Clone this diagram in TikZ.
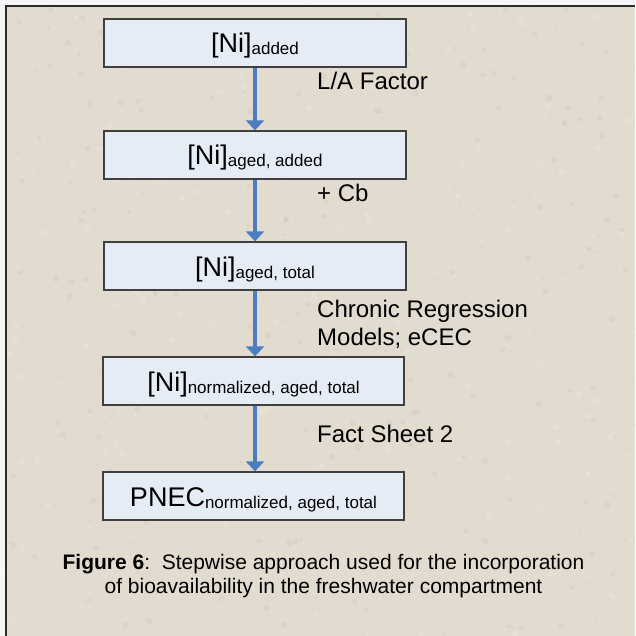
\documentclass[tikz,border=0pt]{standalone}
\usepackage{fontspec}
\setmainfont{Liberation Sans}
\usetikzlibrary{arrows.meta}
\definecolor{paper}{RGB}{226,219,207}
\definecolor{paperdark}{RGB}{208,199,185}
\definecolor{paperlight}{RGB}{236,231,222}
\definecolor{boxfill}{RGB}{230,236,246}
\definecolor{boxline}{RGB}{64,64,64}
\definecolor{flowblue}{RGB}{74,126,192}
\definecolor{frameline}{RGB}{45,45,45}
\tikzset{
  stepbox/.style={draw=boxline, line width=1.3pt, fill=boxfill, minimum width=302pt,
    minimum height=48pt, inner sep=0pt, text height=20pt, text depth=0pt,
    font=\fontsize{27}{30}\selectfont},
  flow/.style={draw=flowblue, line width=3.6pt, -{Triangle[width=18pt,length=10pt]}},
  steplabel/.style={anchor=base west, inner sep=0pt, align=left,
    font=\fontsize{24}{28}\selectfont},
  captiontext/.style={anchor=base, inner sep=0pt, align=center,
    font=\fontsize{21}{24}\selectfont}
}
\newcommand{\sbs}[1]{\raisebox{-2pt}{\fontsize{17}{20}\selectfont #1}}
\begin{document}
\begin{tikzpicture}[x=1pt,y=-1pt]
\useasboundingbox (0,0) rectangle (635,636);
% page and textured paper
\fill[white!93!gray] (0,0) rectangle (635,636);
\fill[paper] (6,6) rectangle (635,636);
\begin{scope}
\clip (6,6) rectangle (635,636);
\pgfmathsetseed{4242}
\foreach \i in {1,...,700}{
  \pgfmathsetmacro{\px}{6+629*rnd}
  \pgfmathsetmacro{\py}{6+630*rnd}
  \pgfmathsetmacro{\pr}{0.5+3*rnd}
  \pgfmathsetmacro{\pc}{rnd}
  \ifdim\pc pt<0.5pt
    \fill[paperdark, opacity=0.35] (\px,\py) circle[radius=\pr];
  \else
    \fill[paperlight, opacity=0.4] (\px,\py) circle[radius=\pr];
  \fi
}
\end{scope}
\draw[frameline, line width=2pt] (6,636) -- (6,6) -- (635,6);

% boxes
\node[stepbox] (b1) at (255,43) {[Ni]\sbs{added}};
\node[stepbox] (b2) at (255,155) {[Ni]\sbs{aged, added}};
\node[stepbox] (b3) at (255,266) {[Ni]\sbs{aged, total}};
\node[stepbox, minimum width=301pt] (b4) at (253.5,381) {[Ni]\sbs{normalized, aged, total}};
\node[stepbox, minimum width=301pt] (b5) at (253.5,496) {PNEC\sbs{normalized, aged, total}};

% arrows
\draw[flow] (b1.south) -- (b2.north);
\draw[flow] (b2.south) -- (b3.north);
\draw[flow] (b3.south) -- (b3.south |- b4.north);
\draw[flow] (b3.south |- b4.south) -- (b3.south |- b5.north);

% labels (base anchor of a multi-line node = last line)
\node[steplabel] (l1) at (317,90) {L/A Factor};
\node[steplabel] (l2) at (317,202) {+ Cb};
\node[steplabel] (l3) at (317,345) {Chronic Regression\\Models; eCEC};
\node[steplabel] (l4) at (317,442) {Fact Sheet 2};

% caption
\node[captiontext] (cap) at (323.5,593) {{\bfseries Figure 6}:\ \ Stepwise approach used for the incorporation\\of bioavailability in the freshwater compartment};
\end{tikzpicture}
\end{document}
